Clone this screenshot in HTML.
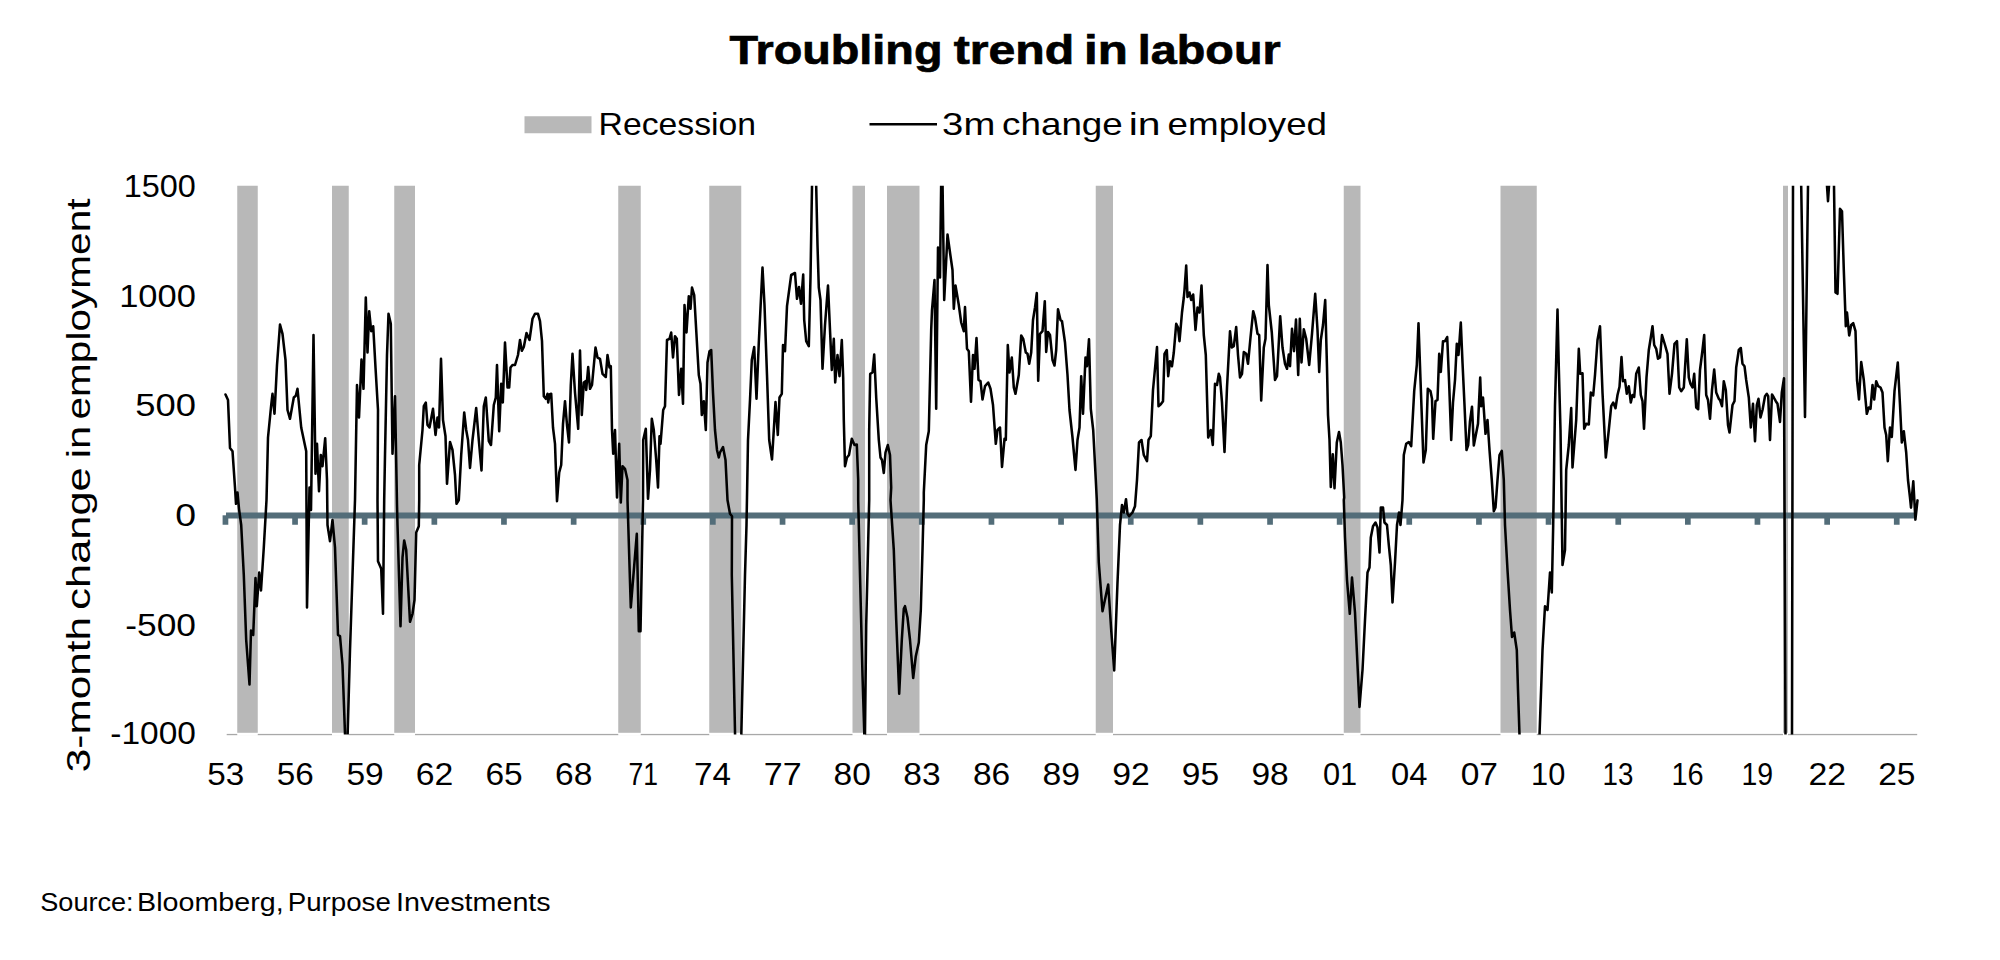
<!DOCTYPE html>
<html><head><meta charset="utf-8"><title>Troubling trend in labour</title>
<style>
html,body{margin:0;padding:0;background:#fff;}
body{width:2000px;height:960px;overflow:hidden;}
svg{display:block;}
text{font-family:"Liberation Sans",sans-serif;fill:#000;}
</style></head><body>
<svg width="2000" height="960" viewBox="0 0 2000 960">
<rect width="2000" height="960" fill="#fff"/>
<defs><clipPath id="plot"><rect x="220" y="185.75" width="1705" height="548.85"/></clipPath></defs>
<text y="64.2" font-size="41.5" font-weight="bold" stroke="#000" stroke-width="0.7"><tspan x="729.44" textLength="213.10" lengthAdjust="spacingAndGlyphs">Troubling</tspan> <tspan x="953.72" textLength="120.58" lengthAdjust="spacingAndGlyphs">trend</tspan> <tspan x="1084.04" textLength="43.80" lengthAdjust="spacingAndGlyphs">in</tspan> <tspan x="1137.82" textLength="142.81" lengthAdjust="spacingAndGlyphs">labour</tspan></text>
<rect x="524.5" y="116.25" width="67" height="17" fill="#b8b8b8"/>
<text y="135.3" font-size="32"><tspan x="598.62" textLength="157.41" lengthAdjust="spacingAndGlyphs">Recession</tspan></text>
<line x1="869.5" y1="124.25" x2="937" y2="124.25" stroke="#000" stroke-width="2.4"/>
<text y="135.3" font-size="32"><tspan x="942.11" textLength="53.13" lengthAdjust="spacingAndGlyphs">3m</tspan> <tspan x="1002.06" textLength="120.74" lengthAdjust="spacingAndGlyphs">change</tspan> <tspan x="1128.72" textLength="31.83" lengthAdjust="spacingAndGlyphs">in</tspan> <tspan x="1167.56" textLength="159.54" lengthAdjust="spacingAndGlyphs">employed</tspan></text>
<rect x="226.7" y="733.9" width="1690.5" height="1.3" fill="#a8a8a8"/>
<rect x="237.25" y="732.8" width="20.5" height="3" fill="#fff"/><rect x="237.25" y="185.75" width="20.5" height="547.05" fill="#b8b8b8"/><rect x="332" y="732.8" width="16.75" height="3" fill="#fff"/><rect x="332" y="185.75" width="16.75" height="547.05" fill="#b8b8b8"/><rect x="394.25" y="732.8" width="20.75" height="3" fill="#fff"/><rect x="394.25" y="185.75" width="20.75" height="547.05" fill="#b8b8b8"/><rect x="618.25" y="732.8" width="22.5" height="3" fill="#fff"/><rect x="618.25" y="185.75" width="22.5" height="547.05" fill="#b8b8b8"/><rect x="709.25" y="732.8" width="32.0" height="3" fill="#fff"/><rect x="709.25" y="185.75" width="32.0" height="547.05" fill="#b8b8b8"/><rect x="852.5" y="732.8" width="12.5" height="3" fill="#fff"/><rect x="852.5" y="185.75" width="12.5" height="547.05" fill="#b8b8b8"/><rect x="887" y="732.8" width="32.5" height="3" fill="#fff"/><rect x="887" y="185.75" width="32.5" height="547.05" fill="#b8b8b8"/><rect x="1095.75" y="732.8" width="17.25" height="3" fill="#fff"/><rect x="1095.75" y="185.75" width="17.25" height="547.05" fill="#b8b8b8"/><rect x="1343.75" y="732.8" width="16.75" height="3" fill="#fff"/><rect x="1343.75" y="185.75" width="16.75" height="547.05" fill="#b8b8b8"/><rect x="1500.5" y="732.8" width="36.25" height="3" fill="#fff"/><rect x="1500.5" y="185.75" width="36.25" height="547.05" fill="#b8b8b8"/><rect x="1783" y="732.8" width="5" height="3" fill="#fff"/><rect x="1783" y="185.75" width="5" height="547.05" fill="#b8b8b8"/>
<g font-size="31"><text x="123.65" y="197" textLength="72.13" lengthAdjust="spacingAndGlyphs">1500</text><text x="119.20" y="306.5" textLength="76.66" lengthAdjust="spacingAndGlyphs">1000</text><text x="135.23" y="416" textLength="60.72" lengthAdjust="spacingAndGlyphs">500</text><text x="175.19" y="525.8" textLength="20.82" lengthAdjust="spacingAndGlyphs">0</text><text x="125.28" y="635.8" textLength="70.70" lengthAdjust="spacingAndGlyphs">-500</text><text x="110.35" y="744.2" textLength="85.55" lengthAdjust="spacingAndGlyphs">-1000</text></g>
<g font-size="32"><text x="207.15" y="784.6" textLength="37.00" lengthAdjust="spacingAndGlyphs">53</text><text x="276.79" y="784.6" textLength="37.00" lengthAdjust="spacingAndGlyphs">56</text><text x="346.42" y="784.6" textLength="37.28" lengthAdjust="spacingAndGlyphs">59</text><text x="415.79" y="784.6" textLength="37.57" lengthAdjust="spacingAndGlyphs">62</text><text x="485.44" y="784.6" textLength="37.28" lengthAdjust="spacingAndGlyphs">65</text><text x="555.08" y="784.6" textLength="37.28" lengthAdjust="spacingAndGlyphs">68</text><text x="628.61" y="784.6" textLength="29.52" lengthAdjust="spacingAndGlyphs">71</text><text x="694.11" y="784.6" textLength="37.00" lengthAdjust="spacingAndGlyphs">74</text><text x="763.71" y="784.6" textLength="37.86" lengthAdjust="spacingAndGlyphs">77</text><text x="833.64" y="784.6" textLength="37.28" lengthAdjust="spacingAndGlyphs">80</text><text x="903.28" y="784.6" textLength="37.28" lengthAdjust="spacingAndGlyphs">83</text><text x="972.92" y="784.6" textLength="37.28" lengthAdjust="spacingAndGlyphs">86</text><text x="1042.55" y="784.6" textLength="37.57" lengthAdjust="spacingAndGlyphs">89</text><text x="1112.19" y="784.6" textLength="37.57" lengthAdjust="spacingAndGlyphs">92</text><text x="1181.84" y="784.6" textLength="37.28" lengthAdjust="spacingAndGlyphs">95</text><text x="1251.48" y="784.6" textLength="37.28" lengthAdjust="spacingAndGlyphs">98</text><text x="1322.89" y="784.6" textLength="34.24" lengthAdjust="spacingAndGlyphs">01</text><text x="1391.05" y="784.6" textLength="36.44" lengthAdjust="spacingAndGlyphs">04</text><text x="1460.66" y="784.6" textLength="37.28" lengthAdjust="spacingAndGlyphs">07</text><text x="1531.11" y="784.6" textLength="34.19" lengthAdjust="spacingAndGlyphs">10</text><text x="1602.48" y="784.6" textLength="30.83" lengthAdjust="spacingAndGlyphs">13</text><text x="1671.40" y="784.6" textLength="32.23" lengthAdjust="spacingAndGlyphs">16</text><text x="1741.46" y="784.6" textLength="31.64" lengthAdjust="spacingAndGlyphs">19</text><text x="1808.59" y="784.6" textLength="37.57" lengthAdjust="spacingAndGlyphs">22</text><text x="1878.24" y="784.6" textLength="37.28" lengthAdjust="spacingAndGlyphs">25</text></g>
<text transform="translate(90,0) rotate(-90)" y="0" font-size="34"><tspan x="-772.26" textLength="155.34" lengthAdjust="spacingAndGlyphs">3-month</tspan> <tspan x="-609.71" textLength="142.39" lengthAdjust="spacingAndGlyphs">change</tspan> <tspan x="-458.15" textLength="32.36" lengthAdjust="spacingAndGlyphs">in</tspan> <tspan x="-419.59" textLength="221.08" lengthAdjust="spacingAndGlyphs">employment</tspan></text>
<rect x="226" y="512.5" width="1688.5" height="6" fill="#536d79"/>
<rect x="222.6" y="515.3" width="5.7" height="9.45" fill="#536d79"/><rect x="292.2" y="515.3" width="5.7" height="9.45" fill="#536d79"/><rect x="361.8" y="515.3" width="5.7" height="9.45" fill="#536d79"/><rect x="431.5" y="515.3" width="5.7" height="9.45" fill="#536d79"/><rect x="501.1" y="515.3" width="5.7" height="9.45" fill="#536d79"/><rect x="570.8" y="515.3" width="5.7" height="9.45" fill="#536d79"/><rect x="640.4" y="515.3" width="5.7" height="9.45" fill="#536d79"/><rect x="710.0" y="515.3" width="5.7" height="9.45" fill="#536d79"/><rect x="779.7" y="515.3" width="5.7" height="9.45" fill="#536d79"/><rect x="849.3" y="515.3" width="5.7" height="9.45" fill="#536d79"/><rect x="918.9" y="515.3" width="5.7" height="9.45" fill="#536d79"/><rect x="988.6" y="515.3" width="5.7" height="9.45" fill="#536d79"/><rect x="1058.2" y="515.3" width="5.7" height="9.45" fill="#536d79"/><rect x="1127.9" y="515.3" width="5.7" height="9.45" fill="#536d79"/><rect x="1197.5" y="515.3" width="5.7" height="9.45" fill="#536d79"/><rect x="1267.2" y="515.3" width="5.7" height="9.45" fill="#536d79"/><rect x="1336.8" y="515.3" width="5.7" height="9.45" fill="#536d79"/><rect x="1406.4" y="515.3" width="5.7" height="9.45" fill="#536d79"/><rect x="1476.1" y="515.3" width="5.7" height="9.45" fill="#536d79"/><rect x="1545.7" y="515.3" width="5.7" height="9.45" fill="#536d79"/><rect x="1615.4" y="515.3" width="5.7" height="9.45" fill="#536d79"/><rect x="1685.0" y="515.3" width="5.7" height="9.45" fill="#536d79"/><rect x="1754.6" y="515.3" width="5.7" height="9.45" fill="#536d79"/><rect x="1824.3" y="515.3" width="5.7" height="9.45" fill="#536d79"/><rect x="1893.9" y="515.3" width="5.7" height="9.45" fill="#536d79"/>
<path d="M225.5,394.5 L228.0,400.0 L230.0,448.0 L232.5,451.2 L235.0,487.5 L236.0,503.8 L237.5,492.5 L239.0,508.8 L241.2,525.0 L243.8,575.0 L246.2,640.0 L249.5,684.5 L251.0,630.5 L253.2,635.0 L255.5,578.0 L256.8,606.2 L259.2,572.5 L261.0,590.5 L263.8,547.5 L266.5,500.0 L268.0,437.5 L271.2,405.0 L272.5,393.8 L274.5,413.8 L277.0,365.0 L280.0,324.5 L282.5,333.8 L285.5,360.0 L287.5,410.0 L290.0,418.8 L293.8,397.5 L295.8,395.8 L297.5,388.8 L301.2,427.5 L306.2,451.2 L307.0,607.5 L309.5,487.5 L311.0,510.0 L313.5,335.0 L315.5,473.8 L317.0,443.8 L319.0,491.2 L320.8,455.0 L322.5,466.2 L325.2,438.2 L327.0,480.0 L327.5,525.0 L330.0,541.2 L332.5,520.0 L335.0,547.5 L338.0,635.0 L340.0,636.2 L342.5,665.0 L346.5,775.0 L350.0,650.0 L352.5,575.0 L355.0,500.0 L357.0,385.0 L359.0,417.5 L361.5,359.5 L363.5,388.8 L365.8,297.5 L367.5,352.5 L369.2,311.2 L371.2,331.2 L373.2,326.2 L375.5,367.5 L378.0,410.0 L377.5,500.0 L378.0,561.2 L381.2,568.8 L383.0,613.8 L384.2,500.0 L385.0,455.0 L387.0,355.0 L388.5,313.8 L390.8,323.8 L392.5,453.8 L395.0,396.2 L397.0,505.0 L397.5,525.0 L400.5,626.2 L402.5,557.5 L404.2,540.5 L406.2,550.0 L410.0,621.8 L412.5,613.8 L414.5,600.0 L416.2,532.5 L418.8,526.2 L419.2,500.0 L419.2,465.0 L422.5,430.0 L423.8,406.2 L425.8,402.5 L427.5,425.0 L429.5,427.5 L433.0,408.8 L435.5,435.0 L437.5,417.5 L439.0,427.5 L441.0,358.8 L443.0,420.0 L445.5,436.2 L447.0,483.8 L450.0,442.0 L452.5,450.0 L455.0,475.0 L456.5,503.8 L458.8,500.0 L461.2,455.0 L464.2,412.5 L466.2,430.0 L468.0,440.0 L470.0,468.0 L472.5,440.0 L476.2,408.0 L478.8,440.0 L481.5,470.5 L483.8,406.2 L485.8,397.5 L488.8,441.2 L491.0,445.0 L493.8,405.0 L495.8,397.5 L497.0,365.0 L499.2,431.2 L501.2,383.8 L502.8,402.5 L505.0,342.5 L507.5,387.5 L509.2,387.5 L510.5,367.5 L512.5,365.0 L515.0,365.0 L518.0,355.0 L520.0,340.0 L521.8,350.8 L523.8,347.0 L526.5,333.0 L529.5,340.0 L532.5,318.8 L535.0,313.8 L538.0,313.8 L540.0,321.2 L542.0,341.2 L543.8,396.2 L545.8,398.8 L547.5,393.8 L548.2,402.5 L549.5,394.5 L551.2,393.8 L553.0,427.5 L555.0,443.8 L557.0,501.2 L559.2,472.5 L561.2,465.0 L563.0,423.8 L565.0,401.2 L567.0,425.0 L569.0,442.5 L570.8,385.0 L572.5,353.8 L575.0,392.5 L578.2,428.8 L580.0,350.5 L581.8,415.0 L583.8,382.5 L585.5,381.2 L586.2,390.0 L588.2,367.0 L590.0,388.8 L592.0,385.0 L595.5,347.5 L597.5,357.5 L600.0,358.8 L602.5,373.8 L605.8,377.0 L607.5,355.0 L609.5,367.5 L610.8,366.2 L612.0,430.0 L613.2,453.8 L615.0,430.0 L617.0,497.5 L619.2,443.8 L620.8,502.5 L622.5,466.2 L625.0,468.8 L627.5,480.0 L627.5,500.0 L630.8,607.5 L636.8,533.8 L638.8,631.2 L640.5,631.2 L643.0,500.0 L643.2,440.0 L645.8,428.8 L648.0,498.8 L650.0,470.0 L651.8,418.8 L653.8,430.0 L656.2,460.0 L658.0,487.5 L659.5,436.2 L660.5,443.8 L663.2,410.0 L665.0,406.2 L667.0,340.0 L669.5,338.8 L671.2,332.5 L673.0,357.5 L675.0,336.2 L676.8,338.8 L679.0,395.0 L681.2,368.8 L683.0,403.8 L684.5,305.0 L686.5,332.5 L688.8,296.2 L690.5,308.8 L692.0,287.5 L694.2,295.0 L696.2,330.0 L698.8,375.0 L700.5,383.8 L701.8,415.0 L703.8,401.2 L705.8,430.0 L707.5,362.5 L709.5,351.2 L711.2,350.0 L713.0,392.5 L715.0,430.0 L717.0,450.0 L718.8,457.5 L720.0,452.5 L723.0,447.0 L725.5,460.0 L727.5,500.0 L730.0,513.8 L732.0,516.2 L731.8,575.0 L738.0,877.5 L745.0,575.0 L746.5,525.0 L748.0,440.0 L750.0,400.0 L751.8,360.0 L754.2,347.0 L756.5,398.8 L758.8,342.5 L762.5,267.5 L764.5,305.0 L767.0,375.0 L769.2,440.0 L772.0,459.5 L775.5,402.0 L777.8,435.0 L779.5,397.5 L781.8,393.8 L783.0,345.0 L785.0,351.2 L787.0,306.2 L791.2,275.0 L795.0,273.0 L797.0,298.8 L799.0,287.0 L801.0,303.8 L803.2,274.5 L804.2,320.0 L806.2,341.2 L808.8,346.2 L810.5,277.5 L812.0,186.2 L814.0,120.0 L816.2,186.2 L817.5,245.0 L818.8,287.5 L820.5,300.0 L822.5,368.8 L825.0,325.0 L828.0,285.5 L830.0,330.0 L831.8,370.0 L833.8,338.8 L835.2,382.5 L837.5,355.0 L839.5,376.2 L841.8,340.0 L843.2,377.5 L843.8,420.0 L845.0,466.2 L847.0,457.5 L849.0,455.0 L851.8,438.8 L854.5,445.0 L856.8,444.5 L858.2,480.0 L858.2,500.0 L860.0,575.0 L862.5,675.0 L864.8,750.0 L866.2,625.0 L869.2,500.0 L869.2,430.0 L870.2,373.8 L872.5,372.5 L874.2,354.5 L876.2,397.5 L878.8,440.0 L880.5,457.5 L882.0,460.0 L883.8,473.0 L885.5,452.5 L887.8,445.0 L890.0,455.0 L891.2,487.5 L890.5,500.0 L893.8,550.0 L896.2,620.0 L899.2,693.8 L901.8,640.0 L903.8,608.8 L905.0,606.2 L907.5,617.5 L910.0,640.0 L913.2,678.0 L915.8,656.2 L918.8,642.5 L920.8,610.0 L922.5,550.0 L923.8,500.0 L923.8,492.5 L926.2,445.0 L928.8,431.2 L931.2,330.0 L932.0,310.0 L934.5,280.0 L936.2,408.8 L938.0,247.5 L940.0,277.5 L941.8,132.5 L944.2,300.0 L947.5,234.5 L950.0,252.5 L952.5,270.0 L953.8,308.8 L955.5,285.5 L958.8,305.0 L961.2,322.5 L963.8,331.2 L965.0,307.0 L967.0,348.8 L968.8,351.2 L971.0,401.8 L973.0,355.0 L974.5,368.8 L976.5,338.0 L978.5,380.0 L980.5,381.2 L982.5,399.5 L985.0,386.2 L988.2,382.5 L990.5,388.8 L993.0,405.0 L995.8,443.8 L997.5,430.0 L1000.0,427.5 L1002.0,467.0 L1004.5,438.8 L1005.8,440.0 L1007.8,345.0 L1009.5,372.5 L1011.8,357.5 L1013.8,387.5 L1015.5,393.8 L1018.8,375.0 L1021.2,335.5 L1023.2,338.8 L1025.8,352.5 L1027.5,353.8 L1029.2,363.8 L1031.2,352.5 L1033.0,320.0 L1035.0,307.5 L1036.8,293.0 L1038.2,380.8 L1040.0,333.8 L1042.5,331.2 L1044.8,301.2 L1046.2,352.0 L1048.0,332.0 L1050.0,335.0 L1052.5,360.0 L1054.5,365.5 L1056.2,350.0 L1058.0,309.2 L1060.5,320.0 L1062.0,321.2 L1065.0,342.5 L1067.5,375.0 L1069.5,410.0 L1072.5,437.5 L1075.5,470.0 L1077.5,440.0 L1079.5,427.5 L1081.2,376.2 L1083.0,413.8 L1085.5,357.5 L1087.0,366.2 L1089.0,339.2 L1090.8,408.8 L1093.2,430.0 L1095.8,480.0 L1096.8,500.0 L1098.8,562.5 L1102.5,611.2 L1108.2,584.5 L1111.2,630.0 L1114.2,670.5 L1117.5,582.5 L1120.0,525.0 L1122.0,505.0 L1123.8,512.5 L1126.0,499.2 L1127.5,513.8 L1129.2,516.2 L1132.5,512.5 L1135.0,506.2 L1137.0,480.0 L1139.0,442.5 L1141.5,440.0 L1143.8,455.0 L1147.0,461.2 L1148.5,440.0 L1150.8,436.2 L1153.0,390.0 L1157.0,347.0 L1158.5,406.2 L1160.8,404.2 L1163.0,401.2 L1164.5,353.8 L1166.8,350.0 L1168.2,376.2 L1170.0,361.2 L1172.0,366.2 L1173.8,352.5 L1176.2,323.8 L1178.0,327.5 L1179.5,341.2 L1182.0,312.5 L1183.8,297.5 L1184.5,290.0 L1186.2,265.5 L1187.5,297.0 L1189.5,292.5 L1191.2,300.0 L1193.2,294.5 L1195.5,330.0 L1197.5,307.5 L1199.5,312.5 L1201.5,285.5 L1203.8,335.0 L1205.8,355.0 L1208.2,437.5 L1210.8,430.0 L1212.8,445.0 L1215.0,383.8 L1217.0,385.0 L1218.8,373.8 L1220.0,377.5 L1222.0,402.5 L1224.5,452.0 L1227.0,387.5 L1230.0,331.2 L1231.8,347.5 L1233.8,346.2 L1236.2,327.0 L1238.0,355.0 L1240.0,377.5 L1242.0,373.8 L1243.8,352.0 L1246.2,353.8 L1248.0,363.8 L1250.5,337.5 L1253.2,311.2 L1255.0,317.5 L1257.5,333.8 L1259.2,335.0 L1261.2,400.5 L1263.8,347.5 L1265.5,338.8 L1267.5,265.0 L1268.8,305.0 L1271.8,332.5 L1275.0,380.0 L1277.0,376.2 L1280.2,316.2 L1282.5,347.5 L1285.0,363.8 L1287.0,368.8 L1288.8,354.5 L1290.0,366.2 L1292.0,328.8 L1294.0,351.2 L1296.0,319.5 L1298.2,375.0 L1299.8,318.8 L1301.5,362.5 L1303.8,329.2 L1306.2,338.8 L1309.2,365.0 L1312.0,333.8 L1315.2,293.8 L1317.5,330.0 L1319.2,372.0 L1320.8,340.0 L1323.0,325.0 L1325.2,300.0 L1327.0,367.5 L1328.0,415.0 L1329.5,440.0 L1330.8,487.0 L1332.8,454.2 L1334.5,488.2 L1336.8,442.5 L1339.0,432.0 L1340.8,442.5 L1342.5,465.0 L1344.2,497.5 L1343.8,500.0 L1345.0,537.5 L1347.0,580.0 L1349.8,613.8 L1352.0,577.5 L1355.0,612.5 L1359.5,707.0 L1362.5,670.0 L1365.0,620.0 L1367.5,572.5 L1369.5,567.5 L1370.8,537.5 L1373.0,526.2 L1375.5,522.5 L1377.5,527.5 L1379.5,552.5 L1380.8,507.5 L1383.0,507.5 L1384.5,522.5 L1387.0,525.0 L1388.8,545.0 L1390.8,565.0 L1392.5,602.5 L1395.0,562.5 L1397.0,525.0 L1399.0,512.5 L1400.5,525.0 L1402.5,500.0 L1403.8,455.0 L1406.2,443.8 L1408.8,442.0 L1411.2,446.2 L1414.2,391.2 L1416.8,365.0 L1418.5,323.2 L1420.5,380.0 L1423.5,462.5 L1425.8,450.0 L1427.8,388.8 L1430.5,391.2 L1432.0,398.8 L1433.2,438.8 L1435.5,401.2 L1437.5,400.0 L1439.2,353.8 L1440.8,372.0 L1443.0,341.2 L1445.0,341.2 L1447.2,337.0 L1449.2,385.0 L1451.2,440.0 L1453.0,402.5 L1455.0,380.0 L1456.8,343.8 L1458.5,355.0 L1460.8,322.5 L1462.5,362.5 L1464.5,405.0 L1466.5,450.0 L1468.2,445.0 L1470.0,421.2 L1472.0,406.8 L1473.8,445.5 L1475.8,435.0 L1478.0,423.8 L1480.2,377.5 L1481.2,406.2 L1483.0,397.5 L1485.5,433.8 L1487.5,420.0 L1489.5,450.0 L1491.8,480.0 L1493.8,511.2 L1495.5,507.5 L1497.5,480.0 L1499.5,455.0 L1501.8,450.8 L1503.8,480.0 L1505.0,525.0 L1507.5,570.0 L1510.0,610.0 L1512.0,637.0 L1514.2,632.5 L1516.8,650.0 L1518.0,690.0 L1519.5,735.0 L1529.5,875.0 L1539.5,735.0 L1542.5,650.0 L1545.0,606.2 L1547.5,610.0 L1550.0,572.5 L1551.8,592.5 L1553.2,525.0 L1555.0,405.0 L1557.5,309.5 L1558.8,367.5 L1560.5,430.0 L1562.5,565.0 L1565.0,550.0 L1566.2,470.0 L1568.8,445.0 L1571.2,408.0 L1572.5,467.5 L1576.2,420.0 L1578.8,348.8 L1580.2,373.8 L1582.5,373.2 L1584.2,428.8 L1586.2,423.8 L1588.8,424.5 L1590.8,392.5 L1593.2,395.5 L1595.0,375.0 L1597.5,340.0 L1600.0,326.2 L1602.5,392.5 L1605.8,457.5 L1608.8,430.0 L1611.2,406.2 L1613.2,402.5 L1615.5,408.2 L1617.5,395.0 L1619.5,386.8 L1621.5,357.0 L1623.0,381.2 L1625.0,380.0 L1626.8,393.8 L1628.8,386.2 L1630.8,402.5 L1632.5,395.0 L1634.2,397.0 L1636.2,373.8 L1638.8,367.5 L1640.8,395.0 L1642.5,401.2 L1644.0,428.8 L1646.5,377.5 L1648.8,350.0 L1650.8,337.5 L1652.5,326.2 L1654.2,345.0 L1656.2,348.8 L1658.0,358.8 L1660.0,357.5 L1662.0,335.0 L1665.0,345.0 L1667.5,353.8 L1669.5,393.8 L1672.0,373.8 L1674.5,343.8 L1677.0,341.2 L1679.2,387.5 L1681.2,391.2 L1683.8,387.5 L1686.8,339.2 L1688.8,377.5 L1690.5,383.8 L1692.5,387.5 L1694.2,373.8 L1696.2,407.5 L1698.2,409.2 L1700.0,370.0 L1702.5,350.0 L1704.2,335.0 L1706.2,395.0 L1708.0,400.0 L1710.0,418.8 L1712.0,390.0 L1714.2,369.5 L1716.2,392.5 L1718.8,398.8 L1720.0,400.0 L1722.0,406.2 L1723.8,381.2 L1725.8,390.0 L1728.0,425.0 L1729.5,432.5 L1732.5,405.0 L1734.5,401.2 L1736.2,367.5 L1738.8,350.0 L1740.8,348.0 L1742.5,363.8 L1744.5,366.2 L1746.2,380.0 L1748.8,397.5 L1750.8,427.5 L1753.0,403.8 L1755.0,441.2 L1756.8,405.0 L1758.5,398.8 L1760.5,417.5 L1762.5,410.0 L1765.0,396.2 L1766.8,393.8 L1768.2,396.2 L1770.0,440.0 L1772.0,394.5 L1773.8,397.5 L1775.8,401.2 L1777.5,403.8 L1780.0,422.0 L1781.8,392.5 L1784.0,378.2 L1785.5,735.0 L1788.8,1500.0 L1792.0,735.0 L1793.0,185.8 L1797.5,-330.0 L1801.2,185.8 L1805.0,417.0 L1808.0,185.8 L1817.5,70.0 L1827.0,185.8 L1828.0,201.2 L1829.0,185.8 L1831.2,145.0 L1834.0,185.8 L1835.5,292.5 L1837.5,293.8 L1840.0,208.8 L1842.0,211.2 L1843.8,270.0 L1845.8,326.2 L1847.0,312.5 L1849.2,335.5 L1851.2,325.0 L1853.2,323.2 L1855.5,331.2 L1857.0,380.0 L1859.0,399.5 L1861.2,362.0 L1863.8,380.0 L1866.8,413.8 L1868.8,407.5 L1870.5,408.8 L1872.5,385.0 L1874.2,399.5 L1876.2,381.2 L1878.2,386.2 L1880.5,387.5 L1882.5,392.5 L1884.5,427.5 L1886.2,435.0 L1887.8,461.2 L1890.0,427.5 L1891.8,437.0 L1894.5,391.2 L1897.8,362.5 L1900.0,405.0 L1901.8,442.5 L1903.8,431.2 L1906.2,452.5 L1908.0,480.0 L1910.0,497.5 L1911.0,507.7 L1913.3,481.3 L1915.4,519.6 L1917.5,500.4" fill="none" stroke="#000" stroke-width="2.55" stroke-linejoin="round" stroke-linecap="round" clip-path="url(#plot)"/>
<text y="911.2" font-size="25"><tspan x="40.25" textLength="93.38" lengthAdjust="spacingAndGlyphs">Source:</tspan> <tspan x="137.11" textLength="146.60" lengthAdjust="spacingAndGlyphs">Bloomberg,</tspan> <tspan x="287.79" textLength="103.06" lengthAdjust="spacingAndGlyphs">Purpose</tspan> <tspan x="396.02" textLength="154.67" lengthAdjust="spacingAndGlyphs">Investments</tspan></text>
</svg>
</body></html>
